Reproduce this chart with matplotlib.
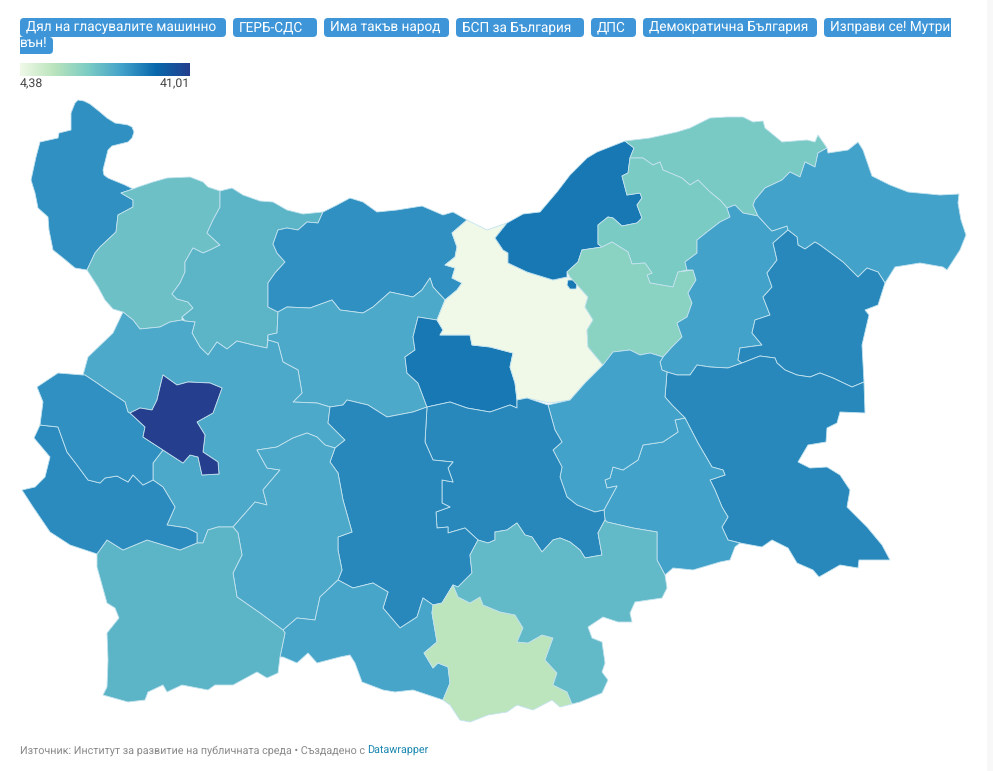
import matplotlib
matplotlib.use('Agg')
import matplotlib.pyplot as plt
import numpy as np
from matplotlib.colors import LinearSegmentedColormap, Normalize
from matplotlib.patches import FancyBboxPatch, Polygon, Rectangle

plt.rcParams['font.family'] = ['Roboto', 'DejaVu Sans']
plt.rcParams['text.hinting'] = 'no_hinting'

# filter labels above the map, last one wraps in the original
button_labels = ['Дял на гласувалите машинно', 'ГЕРБ-СДС', 'Има такъв народ', 'БСП за България',
                 'ДПС', 'Демократична България', 'Изправи се! Мутри']
button_wrapped = 'вън!'
source_text = 'Източник: Институт за развитие на публичната среда • Създадено с '
source_link = 'Datawrapper'
legend_min = 4.38
legend_max = 41.01
legend_labels = ['4,38', '41,01']

cmap_colors = ['#f0f9e8', '#bae4bc', '#7bccc4', '#43a2ca', '#0868ac', '#253f8e']

# share per region, estimated from the fill colours
region_names = ['nw_corner', 'north_1', 'north_2', 'north_3', 'centre_north', 'west_wrap', 'centre_dark',
                'pale_centre', 'danube_east', 'enclave', 'ne_top', 'ne_mid', 'east_mid', 'east_col', 'black_sea',
                'east_block', 'se_large', 'south_east', 'centre_east', 'centre_south', 'centre_col', 'west_col',
                'sw_mid', 'sw_large', 'west_low', 'west_up', 'capital', 'south_pale', 'south_teal']
region_values = [28.6, 21.1, 23.1, 28.6, 25.0, 25.0, 31.7,
                 4.38, 31.7, 31.7, 19.4, 19.2, 17.3, 26.4, 26.4,
                 29.7, 29.7, 26.4, 26.4, 29.7, 29.7, 25.0,
                 25.8, 23.1, 29.2, 28.6, 41.01, 11.4, 22.4]

# outlines, in image pixels
nw_corner = [(78,100),(84,101),(90,104),(95,108),(100,112),(107,118),(115,123),(122,124),(128,125),(132,127),(134,132),(132,138),(128,142),(120,144),(112,146),(108,150),(106,158),(103,170),(104,175),(108,178),(125,185),(133,189),(121,193),(133,200),(133,207),(118,215),(116,232),(100,247),(95,253),(87,270),(75,268),(63,258),(53,250),(49,230),(48,217),(38,208),(35,193),(31,180),(36,157),(40,142),(58,138),(59,133),(71,130),(71,113),(75,103)]
north_1 = [(133,189),(138,187),(153,182),(167,178),(190,177),(203,182),(208,187),(220,191),(220,207),(213,220),(207,233),(220,245),(210,250),(203,253),(193,248),(185,262),(185,272),(180,283),(172,294),(177,299),(188,302),(193,308),(182,317),(182,320),(170,322),(160,327),(140,329),(133,320),(123,312),(113,309),(105,300),(98,287),(87,270),(95,253),(100,247),(116,232),(118,215),(133,207),(133,200),(121,193)]
north_2 = [(220,191),(232,188),(243,195),(260,201),(273,202),(287,210),(303,214),(323,212),(318,223),(307,222),(298,230),(287,228),(278,230),(273,244),(277,253),(285,262),(275,273),(268,283),(268,307),(278,312),(277,333),(268,335),(267,348),(253,345),(237,341),(227,349),(217,342),(208,355),(200,347),(192,333),(195,322),(185,321),(182,317),(193,308),(188,302),(177,299),(172,294),(180,283),(185,272),(185,262),(193,248),(203,253),(210,250),(220,245),(207,233),(213,220),(220,207)]
north_3 = [(323,212),(337,205),(350,198),(363,202),(377,212),(397,210),(422,206),(443,215),(453,212),(467,220),(452,233),(457,247),(455,257),(445,265),(455,268),(452,278),(462,283),(457,290),(445,300),(433,287),(430,278),(422,290),(413,297),(390,292),(373,307),(363,313),(340,310),(332,300),(310,308),(287,307),(278,312),(268,307),(268,283),(275,273),(285,262),(277,253),(273,244),(278,230),(287,228),(298,230),(307,222),(318,223)]
centre_north = [(445,300),(433,287),(430,278),(422,290),(413,297),(390,292),(373,307),(363,313),(340,310),(332,300),(310,308),(287,307),(278,312),(277,333),(268,335),(268,340),(278,343),(283,362),(298,370),(302,393),(293,402),(317,403),(330,407),(343,405),(347,400),(368,405),(387,417),(413,412),(427,407),(418,383),(407,373),(405,357),(415,350),(413,337),(418,317),(437,320)]
west_wrap = [(123,312),(133,320),(140,329),(160,327),(170,322),(182,320),(185,321),(195,322),(192,333),(200,347),(208,355),(217,342),(227,349),(237,341),(253,345),(267,348),(268,340),(278,343),(283,362),(298,370),(302,393),(293,402),(317,403),(330,407),(328,423),(345,440),(335,448),(325,445),(317,437),(307,433),(293,438),(277,447),(257,450),(267,468),(280,470),(263,490),(267,505),(255,502),(233,527),(218,527),(208,530),(203,543),(197,543),(197,533),(187,528),(167,525),(175,507),(163,487),(153,480),(153,463),(163,450),(183,463),(190,455),(198,457),(202,475),(219,474),(218,462),(203,452),(205,435),(197,422),(213,413),(222,388),(210,383),(188,382),(177,385),(163,375),(160,387),(157,400),(152,410),(140,408),(130,413),(128,412),(125,402),(107,390),(97,383),(85,375),(83,375),(88,357),(113,333)]
centre_dark = [(418,317),(437,320),(443,330),(440,335),(470,335),(472,345),(490,347),(513,353),(510,367),(515,383),(517,400),(517,408),(510,405),(490,412),(467,408),(450,402),(427,407),(418,383),(407,373),(405,357),(415,350),(413,337)]
pale_centre = [(467,220),(487,230),(507,223),(495,238),(503,250),(508,253),(508,263),(527,272),(553,280),(567,277),(570,277),(588,297),(585,307),(593,320),(587,330),(588,347),(603,365),(585,383),(570,400),(550,403),(527,398),(517,400),(515,383),(510,367),(513,353),(490,347),(472,345),(470,335),(440,335),(443,330),(437,320),(445,300),(457,290),(462,283),(452,278),(455,268),(445,265),(455,257),(457,247),(452,233)]
danube_east = [(495,238),(507,223),(523,214),(540,212),(557,192),(570,175),(587,158),(597,152),(625,141),(634,148),(630,158),(628,173),(622,176),(627,195),(640,193),(642,198),(637,205),(642,218),(637,223),(622,226),(613,218),(608,217),(598,225),(598,244),(602,247),(582,250),(578,262),(567,272),(567,277),(553,280),(527,272),(508,263),(508,253),(503,250)]
enclave = [(568,280),(575,280),(577,284),(576,289),(570,289),(567,285)]
ne_top = [(625,141),(650,138),(677,132),(690,128),(710,118),(727,117),(743,117),(753,122),(763,121),(765,128),(782,142),(807,140),(815,142),(818,135),(825,145),(827,148),(818,153),(815,167),(805,162),(800,177),(790,172),(782,180),(765,188),(755,200),(753,205),(758,216),(743,213),(735,205),(727,208),(720,200),(710,192),(698,180),(690,185),(682,178),(663,170),(660,162),(653,165),(643,158),(632,158),(630,158),(634,148)]
ne_mid = [(630,158),(643,158),(653,165),(660,162),(663,170),(682,178),(690,185),(698,180),(710,192),(720,200),(727,208),(730,217),(720,222),(707,232),(697,240),(697,253),(685,262),(687,270),(678,272),(673,287),(650,283),(647,275),(652,273),(645,263),(632,264),(628,252),(612,242),(602,247),(598,244),(598,225),(608,217),(613,218),(622,226),(637,223),(642,218),(637,205),(642,198),(640,193),(627,195),(622,176),(628,173)]
east_mid = [(582,250),(602,247),(612,242),(628,252),(632,264),(645,263),(652,273),(647,275),(650,283),(673,287),(678,272),(693,270),(696,280),(688,293),(692,303),(687,317),(677,323),(682,337),(672,347),(663,357),(650,353),(640,355),(630,350),(613,352),(605,363),(603,365),(588,347),(587,330),(593,320),(585,307),(588,297),(570,277),(567,272),(578,262)]
east_col = [(730,217),(727,208),(735,205),(743,213),(758,216),(768,227),(772,231),(787,226),(788,230),(773,243),(777,260),(767,273),(772,287),(763,297),(770,315),(755,320),(752,333),(762,345),(740,348),(738,360),(742,363),(728,368),(710,367),(697,365),(690,375),(677,375),(667,372),(662,370),(660,362),(663,357),(672,347),(682,337),(677,323),(687,317),(692,303),(688,293),(696,280),(693,270),(687,270),(685,262),(697,253),(697,240),(707,232),(720,222)]
black_sea = [(827,148),(828,153),(848,150),(858,142),(863,150),(872,176),(890,185),(908,192),(940,195),(959,194),(958,203),(961,220),(966,235),(960,250),(947,270),(943,267),(920,263),(895,267),(885,283),(878,272),(867,268),(858,277),(843,262),(820,245),(815,242),(805,249),(798,245),(797,237),(788,230),(787,226),(772,231),(768,227),(758,216),(753,205),(755,200),(765,188),(782,180),(790,172),(800,177),(805,162),(815,167),(818,153)]
east_block = [(788,230),(797,237),(798,245),(805,249),(815,242),(820,245),(843,262),(858,277),(867,268),(878,272),(885,283),(878,305),(865,310),(869,315),(862,345),(864,382),(852,387),(833,378),(820,373),(810,377),(797,375),(785,370),(777,363),(775,358),(760,356),(742,363),(738,360),(740,348),(762,345),(752,333),(755,320),(770,315),(763,297),(772,287),(767,273),(777,260),(773,243)]
se_large = [(667,372),(677,375),(690,375),(697,365),(710,367),(728,368),(742,363),(760,356),(775,358),(777,363),(785,370),(797,375),(810,377),(820,373),(833,378),(852,387),(864,382),(865,413),(840,412),(837,423),(827,428),(826,442),(808,445),(798,462),(810,468),(827,467),(840,475),(850,490),(847,507),(867,527),(882,545),(890,560),(873,560),(859,560),(858,568),(840,565),(819,577),(813,570),(797,563),(788,548),(772,540),(762,547),(740,543),(728,540),(722,527),(728,517),(722,507),(715,490),(710,480),(725,475),(723,470),(712,467),(698,443),(685,418),(672,405),(665,397)]
south_east = [(685,418),(698,443),(712,467),(723,470),(725,475),(710,480),(715,490),(722,507),(728,517),(722,527),(728,540),(740,543),(735,547),(730,560),(720,562),(693,570),(673,568),(665,575),(657,560),(657,532),(633,528),(607,522),(605,520),(604,510),(617,486),(607,488),(605,480),(610,478),(613,467),(623,470),(638,460),(643,445),(663,442),(678,432),(675,420)]
centre_east = [(548,405),(570,400),(585,383),(603,365),(613,352),(630,350),(640,355),(650,353),(663,357),(660,362),(662,370),(667,372),(665,397),(672,405),(685,418),(675,420),(678,432),(663,442),(643,445),(638,460),(623,470),(613,467),(610,478),(605,480),(607,488),(617,486),(604,510),(595,512),(577,505),(567,497),(560,477),(562,467),(553,450),(562,442),(555,430)]
centre_south = [(427,407),(450,402),(467,408),(490,412),(510,405),(517,408),(517,400),(527,398),(548,405),(555,430),(562,442),(553,450),(562,467),(560,477),(567,497),(577,505),(595,512),(604,510),(605,520),(598,533),(602,555),(585,558),(580,550),(570,542),(560,538),(553,540),(542,552),(532,537),(525,535),(517,523),(507,530),(495,532),(495,540),(488,543),(478,540),(465,528),(448,533),(448,527),(437,528),(436,512),(450,507),(442,503),(442,480),(453,482),(448,468),(453,462),(433,460),(425,442)]
centre_col = [(330,407),(343,405),(347,400),(368,405),(387,417),(413,412),(427,407),(425,442),(433,460),(453,462),(448,468),(453,482),(442,480),(442,503),(450,507),(436,512),(437,528),(448,527),(448,533),(465,528),(478,540),(470,555),(472,573),(458,587),(453,585),(442,603),(433,605),(423,598),(417,617),(400,628),(383,608),(388,592),(373,583),(353,588),(338,580),(342,570),(338,550),(338,537),(352,532),(343,500),(338,473),(330,462),(335,448),(345,440),(328,423)]
west_col = [(335,448),(330,462),(338,473),(343,500),(352,532),(338,537),(338,550),(342,570),(338,580),(320,597),(315,620),(297,618),(283,630),(260,613),(237,597),(233,573),(242,555),(238,533),(233,527),(255,502),(267,505),(263,490),(280,470),(267,468),(257,450),(277,447),(293,438),(307,433),(317,437),(325,445)]
sw_mid = [(283,630),(297,618),(315,620),(320,597),(338,580),(353,588),(373,583),(388,592),(383,608),(400,628),(417,617),(423,598),(433,605),(432,613),(437,642),(424,653),(433,668),(438,663),(448,667),(450,683),(443,700),(413,690),(395,692),(383,690),(362,682),(355,663),(350,655),(340,657),(317,663),(308,653),(297,663),(283,657),(280,657),(285,633)]
sw_large = [(97,554),(107,540),(123,550),(147,540),(180,550),(197,543),(203,543),(208,530),(218,527),(233,527),(238,533),(242,555),(233,573),(237,597),(260,613),(283,630),(285,633),(280,657),(278,673),(267,678),(257,672),(233,685),(215,685),(208,690),(182,685),(167,692),(163,685),(148,692),(145,700),(128,702),(103,695),(107,687),(108,660),(107,633),(119,618),(115,608),(107,603),(97,567)]
west_low = [(40,425),(58,427),(67,452),(77,465),(88,480),(100,483),(105,478),(117,476),(128,482),(133,475),(143,485),(153,480),(163,487),(175,507),(167,525),(187,528),(197,533),(197,543),(180,550),(147,540),(123,550),(107,540),(97,554),(70,545),(50,532),(33,507),(22,490),(35,487),(45,477),(50,457),(34,438)]
west_up = [(37,387),(58,373),(83,375),(85,375),(97,383),(107,390),(125,402),(128,412),(130,413),(145,427),(143,437),(163,450),(153,463),(153,480),(143,485),(133,475),(128,482),(117,476),(105,478),(100,483),(88,480),(77,465),(67,452),(58,427),(40,425),(43,402)]
capital = [(163,375),(177,385),(188,382),(210,383),(222,388),(213,413),(197,422),(205,435),(203,452),(218,462),(219,474),(202,475),(198,457),(190,455),(183,463),(163,450),(143,437),(145,427),(130,413),(140,408),(152,410),(157,400),(160,387)]
south_pale = [(453,585),(458,597),(470,603),(480,597),(483,605),(500,612),(515,615),(523,628),(517,642),(528,643),(542,635),(553,638),(545,660),(557,673),(553,685),(567,692),(572,704),(560,707),(552,700),(533,710),(517,705),(507,712),(488,715),(470,722),(460,720),(450,705),(443,700),(450,683),(448,667),(438,663),(433,668),(424,653),(437,642),(432,613),(433,605),(442,603)]
south_teal = [(478,540),(488,543),(495,540),(495,532),(507,530),(517,523),(525,535),(532,537),(542,552),(553,540),(560,538),(570,542),(580,550),(585,558),(602,555),(598,533),(605,520),(607,522),(633,528),(657,532),(657,560),(665,575),(667,588),(662,598),(635,602),(630,613),(632,622),(618,622),(603,617),(588,627),(592,638),(602,642),(605,663),(602,672),(608,680),(602,693),(580,702),(572,704),(567,692),(553,685),(557,673),(545,660),(553,638),(542,635),(528,643),(517,642),(523,628),(515,615),(500,612),(483,605),(480,597),(470,603),(458,597),(453,585),(458,587),(472,573),(470,555)]

region_shapes = [nw_corner, north_1, north_2, north_3, centre_north, west_wrap, centre_dark,
                 pale_centre, danube_east, enclave, ne_top, ne_mid, east_mid, east_col, black_sea,
                 east_block, se_large, south_east, centre_east, centre_south, centre_col, west_col,
                 sw_mid, sw_large, west_low, west_up, capital, south_pale, south_teal]

fig = plt.figure(figsize=(9.93, 7.71), dpi=100)
ax = fig.add_axes([0, 0, 1, 1])

cmap = LinearSegmentedColormap.from_list('share', cmap_colors)
norm = Normalize(legend_min, legend_max)

for name, shape, value in zip(region_names, region_shapes, region_values):
    ax.add_patch(Polygon(shape, closed=True, facecolor=cmap(norm(value)), edgecolor='#c3e3ef',
                         linewidth=0.6, joinstyle='round', zorder=2))

# legend bar
ax.imshow(np.linspace(0, 1, 256).reshape(1, -1), extent=(20, 190, 76, 63), cmap=cmap, aspect='auto', zorder=2)
ax.text(20, 84.5, legend_labels[0], fontsize=8.9, color='#444444', ha='left', va='center')
ax.text(190, 84.5, legend_labels[1], fontsize=8.9, color='#444444', ha='right', va='center')

# filter buttons
button_blue = '#3e96d8'
button_spans = [(20, 226), (233, 317), (324, 449), (456, 584), (591, 636), (643, 817), (824, 955)]
for label, (x0, x1) in zip(button_labels, button_spans):
    ax.add_patch(FancyBboxPatch((x0 + 4, 22), x1 - x0 - 8, 11, boxstyle='round,pad=4,rounding_size=4',
                                facecolor=button_blue, edgecolor='none', zorder=3))
    txt = ax.text(x0 + 6, 27.5, label, fontsize=9.8, color='white', ha='left', va='center', zorder=5)
    if x1 == 955:
        txt.set_clip_path(Rectangle((x0, 18), 951 - x0, 20, transform=ax.transData))

# wrapped part of the last button
ax.add_patch(Rectangle((20, 37), 20, 17, facecolor=button_blue, edgecolor='none', zorder=3))
ax.add_patch(FancyBboxPatch((24, 41), 25, 9, boxstyle='round,pad=4,rounding_size=4',
                            facecolor=button_blue, edgecolor='none', zorder=3))
ax.text(20, 44.5, button_wrapped, fontsize=9.8, color='white', ha='left', va='center', zorder=5)
ax.add_patch(Rectangle((951, 15), 8, 26, facecolor='white', edgecolor='none', zorder=4))
ax.add_patch(Rectangle((987, 0), 6, 771, facecolor='#f8f8f8', edgecolor='none', zorder=1))

ax.text(20, 751, source_text, fontsize=7.76, color='#888888', ha='left', va='center')
ax.text(367, 751, source_link, fontsize=7.76, color='#1b87b0', ha='left', va='center')

ax.set_xlim(0, 993)
ax.set_ylim(771, 0)
ax.axis('off')
fig.savefig('out.png', dpi=100)
